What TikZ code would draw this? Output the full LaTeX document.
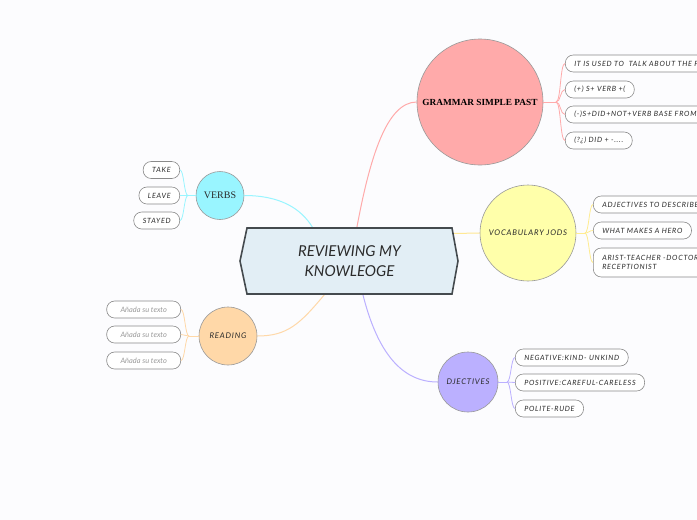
\documentclass[tikz,border=0pt]{standalone}
\usepackage{fontspec}
\setmainfont{Liberation Serif}
\newfontfamily\hand[LetterSpace=10]{Lato}
\newfontfamily\handg{Lato}
\usetikzlibrary{calc}
\definecolor{bg}{HTML}{FCFCFE}
\definecolor{pinkc}{HTML}{FFAAAA}
\definecolor{yelc}{HTML}{FFFFAA}
\definecolor{lavc}{HTML}{BBB0FF}
\definecolor{cyac}{HTML}{99F5FF}
\definecolor{orac}{HTML}{FFD8A8}
\definecolor{cenfill}{HTML}{E2EEF5}
\definecolor{cenline}{HTML}{444A4E}
\definecolor{boxline}{HTML}{8A8A8A}
\definecolor{txt}{HTML}{2A2A2A}
\tikzset{
  topic/.style={circle, draw=gray!80, line width=0.6pt, inner sep=0pt, text=txt},
  leaf/.style={rectangle, rounded corners=8pt, draw=boxline, line width=0.6pt, fill=white,
    minimum height=17pt, inner xsep=9pt, inner ysep=0pt, text=txt,
    font=\hand\itshape\fontsize{7.2}{9.5}\selectfont},
  ghost/.style={leaf, text=gray!80, font=\handg\itshape\fontsize{7.4}{9}\selectfont},
  conn/.style={line width=1pt},
}
\begin{document}
\begin{tikzpicture}[x=1pt,y=-1pt]
\useasboundingbox (0,0) rectangle (697,520);
\clip (0,0) rectangle (697,520);
\fill[bg] (0,0) rectangle (697,520);

% central node
\fill[cenfill] (247,228) -- (452,228) -- (458,261) -- (452,294) -- (247,294) -- (240,261) -- cycle;
\node[rectangle, minimum width=205pt, minimum height=66pt, inner sep=0pt, align=center,
  font=\handg\itshape\fontsize{15}{20}\selectfont, text=txt] (c) at (349.5,261) {REVIEWING MY\\KNOWLEOGE};

% topics
\node[topic, fill=pinkc, minimum size=126pt, font=\bfseries\fontsize{9.3}{11}\selectfont, text=black] (g) at (480,102) {GRAMMAR SIMPLE PAST};
\node[topic, fill=yelc, minimum size=96pt, font=\hand\itshape\fontsize{7.8}{9}\selectfont] (v) at (528,233) {VOCABULARY JODS};
\node[topic, fill=lavc, minimum size=60pt, font=\hand\itshape\fontsize{7.8}{9}\selectfont] (a) at (468,382) {DJECTIVES};
\node[topic, fill=cyac, minimum size=48pt, font=\fontsize{10}{12}\selectfont] (vb) at (220,195.5) {VERBS};
\node[topic, fill=orac, minimum size=58pt, font=\hand\itshape\fontsize{7.8}{9}\selectfont] (r) at (228,336) {READING};

% main connectors
\draw[conn, pinkc] ([xshift=110pt]c.north west) .. controls +(13,-70) and +(-30,0) .. (g.west);
\draw[conn, yelc!80!orange!90] (453,233.5) -- (v.west);
\draw[conn, lavc] ([xshift=116pt]c.south west) .. controls +(15,60) and +(-35,0) .. (a.west);
\draw[conn, cyac] ([xshift=66pt]c.north west) .. controls +(-12,-20) and +(35,0) .. (vb.east);
\draw[conn, orac] ([xshift=78pt]c.south west) .. controls +(-25,30) and +(30,0) .. (r.east);

% central outline on top
\draw[cenline, line width=1.6pt, line join=miter] (247,228) -- (452,228) -- (458,261) -- (452,294) -- (247,294) -- (240,261) -- cycle;

% grammar leaves
\node[leaf, anchor=west] (g1) at (565,63.5) {IT IS USED TO \ TALK ABOUT THE PAST};
\node[leaf, anchor=west] (g2) at (565,89.5) {(+) S+ VERB +(};
\node[leaf, anchor=west] (g3) at (565,114.5) {(-)S+DID+NOT+VERB BASE FROM +....};
\node[leaf, anchor=west] (g4) at (565,140.5) {(?¿) DID + -....};
\coordinate (gj) at (556,102);
\draw[conn, pinkc, line width=0.8pt] (g.east) -- (gj);
\foreach \n in {g1,g2,g3,g4} \draw[pinkc, line width=0.8pt] (gj) .. controls +(5,0) and +(-5,0) .. (\n.west);

% vocabulary leaves
\node[leaf, anchor=west] (v1) at (593,204.5) {ADJECTIVES TO DESCRIBE \ };
\node[leaf, anchor=west] (v2) at (593,230.5) {WHAT MAKES A HERO};
\node[leaf, anchor=west, minimum height=29pt, align=left] (v3) at (593,262.5) {ARIST-TEACHER -DOCTOR-\\RECEPTIONIST};
\coordinate (vj) at (585,233);
\draw[yelc!85!orange, line width=0.8pt] (v.east) -- (vj);
\foreach \n in {v1,v2,v3} \draw[yelc!85!orange, line width=0.8pt] (vj) .. controls +(4,0) and +(-4,0) .. (\n.west);

% adjectives leaves
\node[leaf, anchor=west] (a1) at (515,357.5) {NEGATIVE:KIND- UNKIND};
\node[leaf, anchor=west] (a2) at (515,382.5) {POSITIVE:CAREFUL-CARELESS};
\node[leaf, anchor=west] (a3) at (515,408.5) {POLITE-RUDE};
\coordinate (aj) at (507,382);
\draw[lavc, line width=0.8pt] (a.east) -- (aj);
\foreach \n in {a1,a2,a3} \draw[lavc, line width=0.8pt] (aj) .. controls +(4,0) and +(-4,0) .. (\n.west);

% verbs leaves
\node[leaf, anchor=east] (b1) at (180,170) {TAKE};
\node[leaf, anchor=east] (b2) at (180,195.5) {LEAVE};
\node[leaf, anchor=east] (b3) at (180,220.5) {STAYED};
\coordinate (bj) at (188,195.5);
\draw[cyac, line width=0.8pt] (vb.west) -- (bj);
\foreach \n in {b1,b2,b3} \draw[cyac, line width=0.8pt] (bj) .. controls +(-4,0) and +(4,0) .. (\n.east);

% reading leaves
\node[ghost, anchor=east, minimum width=74pt] (r1) at (181,309.5) {Añada su texto};
\node[ghost, anchor=east, minimum width=74pt] (r2) at (181,334.5) {Añada su texto};
\node[ghost, anchor=east, minimum width=74pt] (r3) at (181,360.5) {Añada su texto};
\coordinate (rj) at (189,336);
\draw[orac, line width=0.8pt] (r.west) -- (rj);
\foreach \n in {r1,r2,r3} \draw[orac, line width=0.8pt] (rj) .. controls +(-4,0) and +(4,0) .. (\n.east);
\end{tikzpicture}
\end{document}
